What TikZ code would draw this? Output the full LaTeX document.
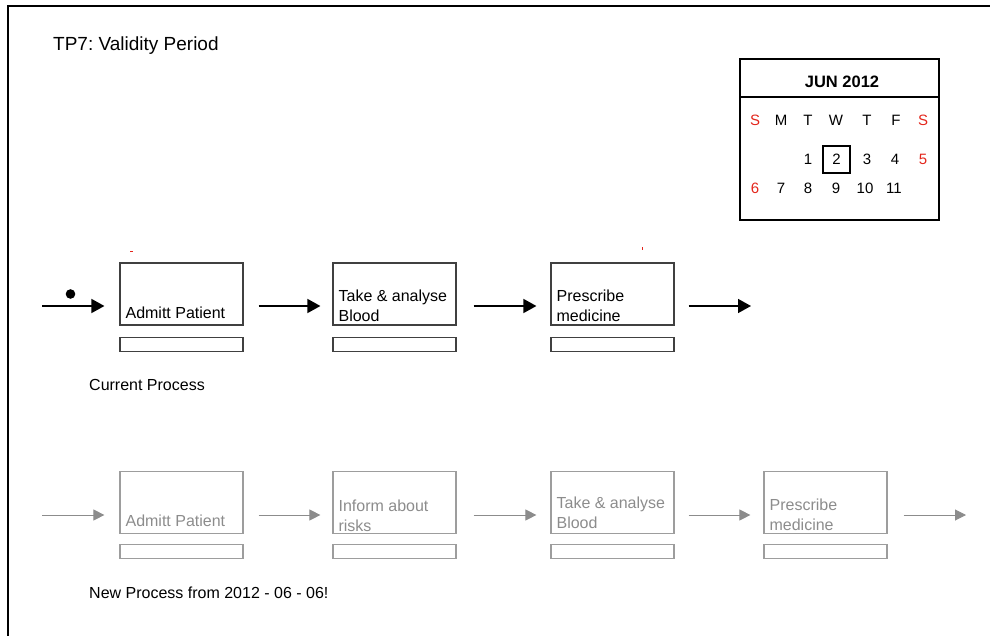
\documentclass[tikz,border=0pt]{standalone}
\usepackage{fontspec}
\setmainfont{Liberation Sans}
\frenchspacing
\usetikzlibrary{arrows.meta, positioning}
\definecolor{calred}{HTML}{E3261C}
\definecolor{oldgray}{HTML}{8C8C8C}
\tikzset{
  task/.style={rectangle, draw=black!75, line width=1.2pt, minimum width=123pt, minimum height=62pt, inner sep=0pt},
  memo/.style={rectangle, draw=black!75, line width=1.1pt, minimum width=123pt, minimum height=14pt, inner sep=0pt},
  tasktext/.style={inner sep=0pt, align=left, font=\fontsize{16}{20}\selectfont},
  ghost/.style={draw=oldgray!85, text=oldgray},
  flow/.style={-{Triangle[length=13pt,width=14pt]}, line width=1.5pt},
  ghostflow/.style={-{Triangle[length=11pt,width=11pt]}, line width=1pt, draw=oldgray},
  day/.style={inner sep=0pt, font=\fontsize{15}{15}\selectfont},
  caption/.style={anchor=west, inner sep=0pt, font=\fontsize{16}{20}\selectfont},
}

\begin{document}
\begin{tikzpicture}[x=1pt,y=-1pt]
\useasboundingbox (0,0) rectangle (990,636);
\draw[line width=1.5pt] (8,636) -- (8,6) -- (990,6);

\path (53,46) node(title) [caption, font=\fontsize{19}{21}\selectfont] {TP7: Validity Period}
(89,385) node(current) [caption] {Current Process}
(89,593) node(newproc) [caption] {New Process from 2012 - 06 - 06!};

% calendar
\node(cal) [rectangle, draw, line width=1.8pt, minimum width=199pt, minimum height=161pt] at (839.5,139.5) {};
\draw[line width=1.8pt] ([yshift=-39pt]cal.north west) -- ([yshift=-39pt]cal.north east);
\path (842,82) node(month) [inner sep=0pt, font=\bfseries\fontsize{16.5}{18}\selectfont] {JUN 2012}
(755,120) node(sun) [day, text=calred] {S}
(781,120) node(mon) [day] {M}
(808,120) node(tue) [day] {T}
(836,120) node(wed) [day] {W}
(867,120) node(thu) [day] {T}
(896,120) node(fri) [day] {F}
(923,120) node(sat) [day, text=calred] {S}
(808,159) node(d1) [day] {1}
(836.5,159.5) node(d2) [day, draw, line width=1.2pt, minimum size=27pt] {2}
(867,159) node(d3) [day] {3}
(895,159) node(d4) [day] {4}
(923,159) node(d5) [day, text=calred] {5}
(755,188) node(d6) [day, text=calred] {6}
(781,188) node(d7) [day] {7}
(808,188) node(d8) [day] {8}
(836,188) node(d9) [day] {9}
(865,188) node(d10) [day] {10}
(894,188) node(d11) [day] {11};

% current process
\path (181.5,294) node(admit) [task] {}
(394.5,294) node(blood) [task] {}
(612.5,294) node(presc) [task] {};
\node(admitmemo) [memo, below=11pt of admit] {};
\node(bloodmemo) [memo, below=11pt of blood] {};
\node(prescmemo) [memo, below=11pt of presc] {};
\node [tasktext, above right=7pt and 6pt of admit.south west] {Admitt Patient};
\node [tasktext, above right=4pt and 6pt of blood.south west] {Take \& analyse\\Blood};
\node [tasktext, above right=4pt and 6pt of presc.south west] {Prescribe\\medicine};
\draw[calred, line width=0.8pt] (130,251) -- (133,251);
\draw[calred, line width=0.8pt] (642,247.5) -- (642,250.5);

\coordinate (start) at (42,306);
\coordinate (stop) at (751,306);
\fill (70.5,294) circle (4.8pt);
\draw[flow] (start) -- ([xshift=-15pt,yshift=-12pt]admit.west);
\draw[flow] ([xshift=15pt,yshift=-12pt]admit.east) -- ([xshift=-12pt,yshift=-12pt]blood.west);
\draw[flow] ([xshift=17pt,yshift=-12pt]blood.east) -- ([xshift=-14pt,yshift=-12pt]presc.west);
\draw[flow] ([xshift=14pt,yshift=-12pt]presc.east) -- (stop);

% new process
\path (181.5,502.5) node(nadmit) [task, ghost] {}
(394.5,502.5) node(ninform) [task, ghost] {}
(612.5,502.5) node(nblood) [task, ghost] {}
(825.5,502.5) node(npresc) [task, ghost] {};
\node(nadmitmemo) [memo, ghost, below=10pt of nadmit] {};
\node(ninformmemo) [memo, ghost, below=10pt of ninform] {};
\node(nbloodmemo) [memo, ghost, below=10pt of nblood] {};
\node(nprescmemo) [memo, ghost, below=10pt of npresc] {};
\node [tasktext, text=oldgray, above right=7pt and 6pt of nadmit.south west] {Admitt Patient};
\node [tasktext, text=oldgray, above right=2.5pt and 6pt of ninform.south west] {Inform about\\risks};
\node [tasktext, text=oldgray, above right=5pt and 6pt of nblood.south west] {Take \& analyse\\Blood};
\node [tasktext, text=oldgray, above right=3pt and 6pt of npresc.south west] {Prescribe\\medicine};

\coordinate (nstart) at (42,515);
\coordinate (nstop) at (966,515);
\draw[ghostflow] (nstart) -- ([xshift=-15pt,yshift=-12.5pt]nadmit.west);
\draw[ghostflow] ([xshift=15pt,yshift=-12.5pt]nadmit.east) -- ([xshift=-12pt,yshift=-12.5pt]ninform.west);
\draw[ghostflow] ([xshift=17pt,yshift=-12.5pt]ninform.east) -- ([xshift=-14pt,yshift=-12.5pt]nblood.west);
\draw[ghostflow] ([xshift=14pt,yshift=-12.5pt]nblood.east) -- ([xshift=-13pt,yshift=-12.5pt]npresc.west);
\draw[ghostflow] ([xshift=16pt,yshift=-12.5pt]npresc.east) -- (nstop);
\end{tikzpicture}
\end{document}
